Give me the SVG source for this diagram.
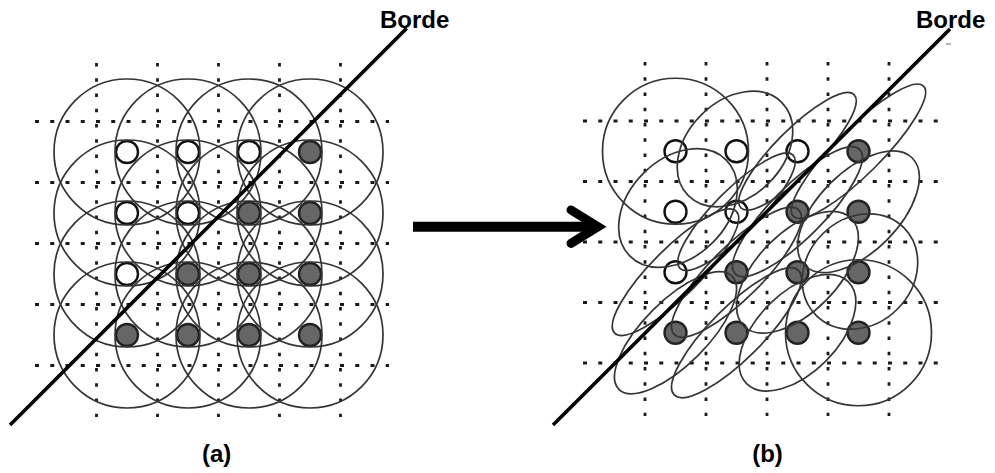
<svg xmlns="http://www.w3.org/2000/svg" width="995" height="473" viewBox="0 0 995 473">
<defs>
<style>
.hd{stroke:#1a1a1a;stroke-width:2.8;stroke-dasharray:4 11.25;fill:none}
.vd{stroke:#1a1a1a;stroke-width:2.8;stroke-dasharray:3.5 11.75;fill:none}
.k{fill:none;stroke:#353535;stroke-width:1.7}
.sw{fill:#ffffff;stroke:#111;stroke-width:2.4}
.sf{fill:#666666;stroke:#222;stroke-width:2.4}
.edge{stroke:#000;stroke-width:3.6;fill:none}
.lbl{font-family:"Liberation Sans",Arial,Helvetica,sans-serif;font-weight:bold;font-size:24px;fill:#000}
</style>
</defs>
<rect width="995" height="473" fill="#fff"/>

<g id="panel-a">
 <g id="grid-a">
  <path class="vd" d="M96.5 63V417M157.5 63V417M218.5 63V417M279.5 63V417M340.5 63V417"/>
  <path class="hd" d="M35 121.5H389M35 182.5H389M35 243.5H389M35 304.5H389M35 365.5H389"/>
 </g>
 <g id="samples-a">
  <circle class="sw" cx="127" cy="152" r="11"/><circle class="sw" cx="188" cy="152" r="11"/><circle class="sw" cx="249" cy="152" r="11"/><circle class="sf" cx="310" cy="152" r="11"/>
  <circle class="sw" cx="127" cy="213" r="11"/><circle class="sw" cx="188" cy="213" r="11"/><circle class="sf" cx="249" cy="213" r="11"/><circle class="sf" cx="310" cy="213" r="11"/>
  <circle class="sw" cx="127" cy="274" r="11"/><circle class="sf" cx="188" cy="274" r="11"/><circle class="sf" cx="249" cy="274" r="11"/><circle class="sf" cx="310" cy="274" r="11"/>
  <circle class="sf" cx="127" cy="335" r="11"/><circle class="sf" cx="188" cy="335" r="11"/><circle class="sf" cx="249" cy="335" r="11"/><circle class="sf" cx="310" cy="335" r="11"/>
 </g>
 <g id="kernels-a">
  <circle class="k" cx="127" cy="152" r="73"/><circle class="k" cx="188" cy="152" r="73"/><circle class="k" cx="249" cy="152" r="73"/><circle class="k" cx="310" cy="152" r="73"/>
  <circle class="k" cx="127" cy="213" r="73"/><circle class="k" cx="188" cy="213" r="73"/><circle class="k" cx="249" cy="213" r="73"/><circle class="k" cx="310" cy="213" r="73"/>
  <circle class="k" cx="127" cy="274" r="73"/><circle class="k" cx="188" cy="274" r="73"/><circle class="k" cx="249" cy="274" r="73"/><circle class="k" cx="310" cy="274" r="73"/>
  <circle class="k" cx="127" cy="335" r="73"/><circle class="k" cx="188" cy="335" r="73"/><circle class="k" cx="249" cy="335" r="73"/><circle class="k" cx="310" cy="335" r="73"/>
 </g>
 <line id="edge-a" class="edge" x1="10" y1="425" x2="406.7" y2="28.3"/>
 <text id="borde-a" class="lbl" x="380" y="28">Borde</text>
 <text id="label-a" class="lbl" x="216.7" y="461.5" text-anchor="middle">(a)</text>
</g>

<g id="panel-b">
 <g id="grid-b">
  <path class="vd" d="M645 62V416M706 62V416M767 62V416M828 62V416M889 62V416"/>
  <path class="hd" d="M583 121H943M583 181.5H943M583 242H943M583 302.5H943M583 363H943"/>
 </g>
 <g id="samples-b">
  <circle class="sw" cx="675.5" cy="151.25" r="11"/><circle class="sw" cx="736.5" cy="151.25" r="11"/><circle class="sw" cx="797.5" cy="151.25" r="11"/><circle class="sf" cx="858.5" cy="151.25" r="11"/>
  <circle class="sw" cx="675.5" cy="211.75" r="11"/><circle class="sw" cx="736.5" cy="211.75" r="11"/><circle class="sf" cx="797.5" cy="211.75" r="11"/><circle class="sf" cx="858.5" cy="211.75" r="11"/>
  <circle class="sw" cx="675.5" cy="272.25" r="11"/><circle class="sf" cx="736.5" cy="272.25" r="11"/><circle class="sf" cx="797.5" cy="272.25" r="11"/><circle class="sf" cx="858.5" cy="272.25" r="11"/>
  <circle class="sf" cx="675.5" cy="332.75" r="11"/><circle class="sf" cx="736.5" cy="332.75" r="11"/><circle class="sf" cx="797.5" cy="332.75" r="11"/><circle class="sf" cx="858.5" cy="332.75" r="11"/>
 </g>
 <g id="kernels-b">
  <circle class="k" cx="675.5" cy="151.25" r="73"/>
  <ellipse class="k" cx="735" cy="149" rx="66" ry="48" transform="rotate(-45 735 149)"/>
  <ellipse class="k" cx="797.5" cy="151.25" rx="80" ry="22" transform="rotate(-45 797.5 151.25)"/>
  <ellipse class="k" cx="858.5" cy="151.25" rx="92" ry="23" transform="rotate(-45 858.5 151.25)"/>
  <ellipse class="k" cx="678" cy="208" rx="68" ry="49" transform="rotate(-45 678 208)"/>
  <ellipse class="k" cx="736.5" cy="211.75" rx="80" ry="22" transform="rotate(-45 736.5 211.75)"/>
  <ellipse class="k" cx="797.5" cy="211.75" rx="88" ry="26" transform="rotate(-45 797.5 211.75)"/>
  <ellipse class="k" cx="858.5" cy="211.75" rx="76" ry="40" transform="rotate(-45 858.5 211.75)"/>
  <ellipse class="k" cx="675.5" cy="272.25" rx="86" ry="24" transform="rotate(-45 675.5 272.25)"/>
  <ellipse class="k" cx="736.5" cy="272.25" rx="88" ry="26" transform="rotate(-45 736.5 272.25)"/>
  <ellipse class="k" cx="797.5" cy="272.25" rx="76" ry="40" transform="rotate(-45 797.5 272.25)"/>
  <ellipse class="k" cx="860" cy="271.5" rx="62" ry="53" transform="rotate(-45 860 271.5)"/>
  <ellipse class="k" cx="675.5" cy="332.75" rx="80" ry="32" transform="rotate(-45 675.5 332.75)"/>
  <ellipse class="k" cx="736.5" cy="332.75" rx="88" ry="26" transform="rotate(-45 736.5 332.75)"/>
  <ellipse class="k" cx="797.5" cy="332.75" rx="72" ry="40" transform="rotate(-45 797.5 332.75)"/>
  <circle class="k" cx="858.5" cy="332.75" r="73"/>
 </g>
 <line id="edge-b" class="edge" x1="553" y1="425" x2="950" y2="29"/>
 <line x1="946" y1="44" x2="951" y2="44" stroke="#888" stroke-width="1.2"/>
 <text id="borde-b" class="lbl" x="916" y="28">Borde</text>
 <text id="label-b" class="lbl" x="767.5" y="461.5" text-anchor="middle">(b)</text>
</g>

<g id="connectors">
 <line x1="413" y1="226.7" x2="596" y2="226.7" stroke="#000" stroke-width="10"/>
 <polyline points="571,210 598,226.7 571,243.4" fill="none" stroke="#000" stroke-width="9" stroke-linecap="round" stroke-linejoin="miter"/>
</g>
</svg>
